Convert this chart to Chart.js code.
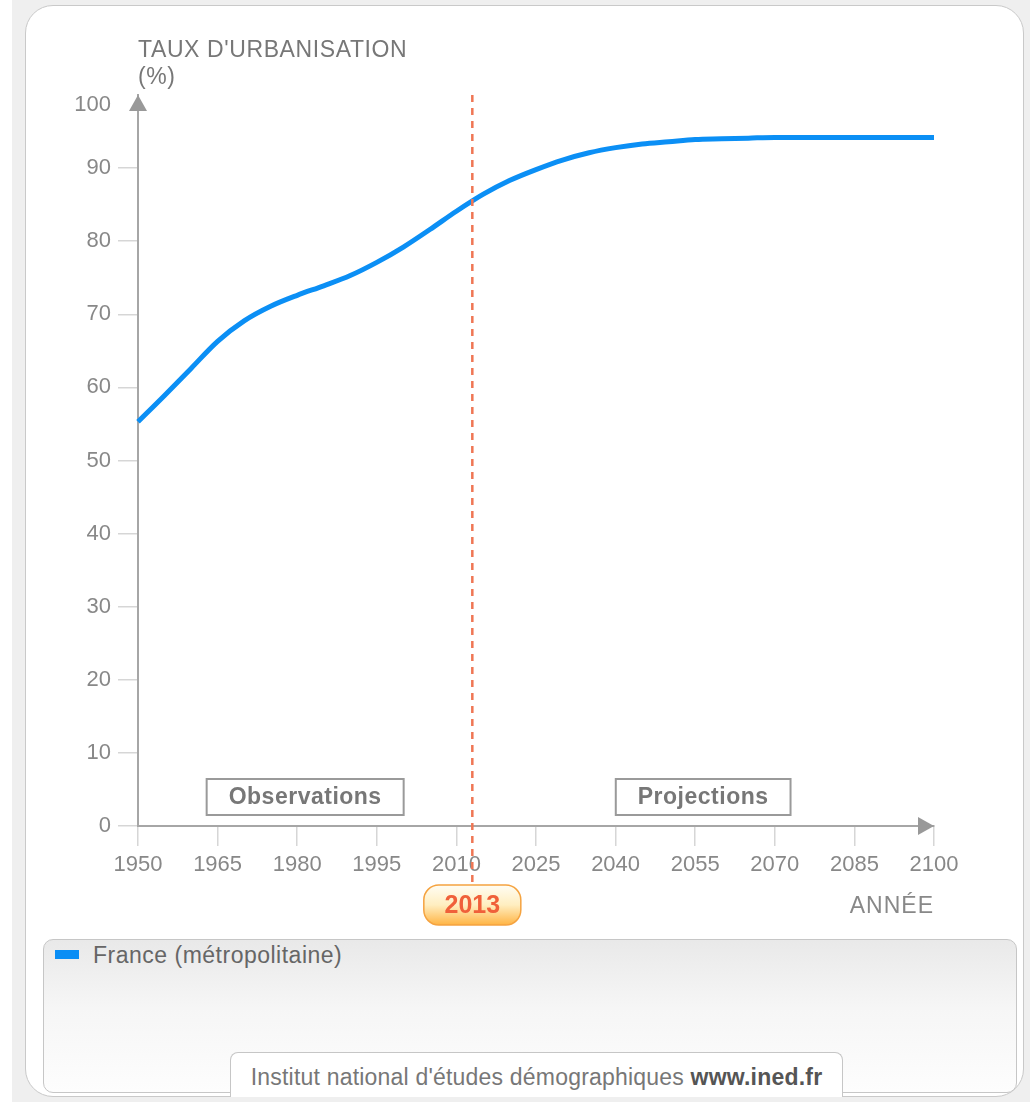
<!DOCTYPE html>
<html lang="fr">
<head>
<meta charset="utf-8">
<title>Taux d'urbanisation - France (métropolitaine)</title>
<script src="https://cdn.jsdelivr.net/npm/chart.js@4.4.1/dist/chart.umd.min.js"></script>
<style>
  html, body { margin: 0; padding: 0; background: #fff; }
  body { width: 1030px; height: 1108px; position: relative; overflow: hidden;
         font-family: "Liberation Sans", Arial, sans-serif; }
  #backdrop { position: absolute; left: 12px; top: 0; width: 1018px; height: 1102px; background: #efefef; }
  #panel { position: absolute; left: 25px; top: 5px; width: 997px; height: 1090px;
           background: #fff; border: 1.5px solid #c9c9c9; border-radius: 28px; }
  #legend { position: absolute; left: 43px; top: 939px; width: 972px; height: 152px;
            border: 1.5px solid #c6c6c6; border-radius: 10px;
            background: linear-gradient(#e9e9e9, #f6f6f6 45%, #fdfdfd); }
  #legend .item { position: absolute; left: 11px; top: 2px; font-size: 23px; letter-spacing: 0.5px; color: #666; }
  #legend .swatch { display: inline-block; width: 24px; height: 9px; background: #0a8ef5;
                    margin-right: 14px; vertical-align: 4px; }
  #credit { position: absolute; left: 230px; top: 1052px; width: 611px; height: 44px;
            background: #fff; border: 1.5px solid #c6c6c6; border-bottom: none;
            border-radius: 8px 8px 0 0; text-align: center; line-height: 48px;
            font-size: 23px; letter-spacing: 0.2px; color: #777; white-space: nowrap; }
  #credit b { color: #555; }
  canvas { position: absolute; left: 0; top: 0; }
</style>
</head>
<body>
<div id="backdrop"></div>
<div id="panel"></div>
<div id="legend"><div class="item"><span class="swatch"></span>France (métropolitaine)</div></div>
<div id="credit">Institut national d'études démographiques <b>www.ined.fr</b></div>
<canvas id="chart" width="1030" height="1108"></canvas>
<script>
// urban share of the population, % (observed to 2013, projected after)
const years = [1950, 1955, 1960, 1965, 1970, 1975, 1980, 1985, 1990, 1995,
               2000, 2005, 2010, 2015, 2020, 2025, 2030, 2035, 2040, 2045,
               2050, 2055, 2060, 2065, 2070, 2075, 2080, 2085, 2090, 2095, 2100];
const tauxUrbain = [55.3, 58.9, 62.6, 66.3, 69.1, 71.1, 72.6, 73.9, 75.3, 77.1,
                    79.2, 81.6, 84.1, 86.4, 88.3, 89.8, 91.1, 92.1, 92.8, 93.3,
                    93.6, 93.9, 94.0, 94.1, 94.2, 94.2, 94.2, 94.2, 94.2, 94.2, 94.2];
const currentYear = 2013;
const periods = [
  { label: 'Observations', from: 1950, to: currentYear },
  { label: 'Projections', from: currentYear, to: 2100 }
];
const yTitle = ["TAUX D'URBANISATION", '(%)'];
const xTitle = 'ANNÉE';

const FONT = '"Liberation Sans", Arial, sans-serif';
const AXIS = '#a6a6a6';

function roundRect(ctx, x, y, w, h, r) {
  ctx.beginPath();
  ctx.moveTo(x + r, y);
  ctx.arcTo(x + w, y, x + w, y + h, r);
  ctx.arcTo(x + w, y + h, x, y + h, r);
  ctx.arcTo(x, y + h, x, y, r);
  ctx.arcTo(x, y, x + w, y, r);
  ctx.closePath();
}

// arrows, titles, the "now" marker and the period boxes
const decorations = {
  id: 'decorations',
  afterDatasetsDraw(chart) {
    const { ctx, chartArea: a, scales: { x, y } } = chart;
    ctx.save();

    // axis arrow heads
    ctx.fillStyle = '#999';
    ctx.beginPath();
    ctx.moveTo(a.left, a.top);
    ctx.lineTo(a.left - 9, a.top + 16);
    ctx.lineTo(a.left + 9, a.top + 16);
    ctx.closePath();
    ctx.fill();
    ctx.beginPath();
    ctx.moveTo(a.right, a.bottom);
    ctx.lineTo(a.right - 16, a.bottom - 9);
    ctx.lineTo(a.right - 16, a.bottom + 9);
    ctx.closePath();
    ctx.fill();

    // top y label sits below the arrow head
    ctx.fillStyle = '#888';
    ctx.font = '22px ' + FONT;
    ctx.textAlign = 'right';
    ctx.textBaseline = 'middle';
    ctx.fillText(String(y.max), a.left - 27, y.getPixelForValue(y.max) + 10);

    // axis titles
    ctx.fillStyle = '#777';
    ctx.font = '23px ' + FONT;
    ctx.textAlign = 'left';
    ctx.letterSpacing = '0.6px';
    ctx.fillText(yTitle[0], a.left, 51);
    ctx.fillText(yTitle[1], a.left, 78);
    ctx.fillStyle = '#888';
    ctx.font = '23px ' + FONT;
    ctx.letterSpacing = '1px';
    ctx.textAlign = 'right';
    ctx.fillText(xTitle, a.right, 907);
    ctx.letterSpacing = '0px';

    // dashed line at the current year
    const xc = x.getPixelForValue(currentYear);
    ctx.strokeStyle = '#ef7654';
    ctx.lineWidth = 2.5;
    ctx.setLineDash([7, 6]);
    ctx.beginPath();
    ctx.moveTo(xc, a.top);
    ctx.lineTo(xc, 884);
    ctx.stroke();
    ctx.setLineDash([]);

    // period boxes
    ctx.font = 'bold 23px ' + FONT;
    ctx.letterSpacing = '0.5px';
    ctx.textAlign = 'center';
    periods.forEach(p => {
      const cx = (x.getPixelForValue(p.from) + x.getPixelForValue(p.to)) / 2;
      const w = ctx.measureText(p.label).width + 44;
      ctx.fillStyle = '#fff';
      ctx.fillRect(cx - w / 2, 779, w, 36);
      ctx.strokeStyle = '#9a9a9a';
      ctx.lineWidth = 2;
      ctx.strokeRect(cx - w / 2, 779, w, 36);
      ctx.fillStyle = '#777';
      ctx.fillText(p.label, cx, 798);
    });
    ctx.letterSpacing = '0px';

    // current year badge
    const bw = 97, bh = 40, by = 885;
    const g = ctx.createLinearGradient(0, by, 0, by + bh);
    g.addColorStop(0, '#fffdf4');
    g.addColorStop(0.5, '#ffeec0');
    g.addColorStop(1, '#ffb444');
    roundRect(ctx, xc - bw / 2, by, bw, bh, 15);
    ctx.fillStyle = g;
    ctx.fill();
    ctx.strokeStyle = '#f5a340';
    ctx.lineWidth = 1.5;
    ctx.stroke();
    ctx.fillStyle = '#f0603a';
    ctx.font = 'bold 25px ' + FONT;
    ctx.fillText(String(currentYear), xc, by + bh / 2 + 1);

    ctx.restore();
  }
};

new Chart(document.getElementById('chart'), {
  type: 'line',
  data: {
    datasets: [{
      label: 'France (métropolitaine)',
      data: years.map((yr, i) => ({ x: yr, y: tauxUrbain[i] })),
      borderColor: '#0b8ff5',
      borderWidth: 5,
      pointRadius: 0,
      cubicInterpolationMode: 'monotone',
      fill: false,
      clip: 6
    }]
  },
  options: {
    responsive: false,
    animation: false,
    events: [],
    layout: { padding: { left: 78, top: 95, right: 96, bottom: 232 } },
    plugins: { legend: { display: false }, tooltip: { enabled: false } },
    scales: {
      x: {
        type: 'linear',
        min: 1950,
        max: 2100,
        afterFit: s => { s.height = 50; },
        afterBuildTicks: s => { s.ticks = years.filter(yr => (yr - 1950) % 15 === 0).map(v => ({ value: v })); },
        border: { color: AXIS, width: 2 },
        grid: { drawOnChartArea: false, tickLength: 20, color: '#d6d6d6', lineWidth: 1.5 },
        ticks: { color: '#888', padding: 6, maxRotation: 0, autoSkip: false,
                 font: { family: FONT, size: 22 }, callback: v => String(v) }
      },
      y: {
        min: 0,
        max: 100,
        afterFit: s => { s.width = 60; },
        border: { color: AXIS, width: 2 },
        grid: { drawOnChartArea: false, tickLength: 20, lineWidth: 1.5,
                color: c => (c.tick && c.tick.value === 100 ? 'rgba(0,0,0,0)' : '#d6d6d6') },
        ticks: { stepSize: 10, color: '#888', padding: 7,
                 font: { family: FONT, size: 22 }, callback: v => (v === 100 ? '' : v) }
      }
    }
  },
  plugins: [decorations]
});
</script>
</body>
</html>
